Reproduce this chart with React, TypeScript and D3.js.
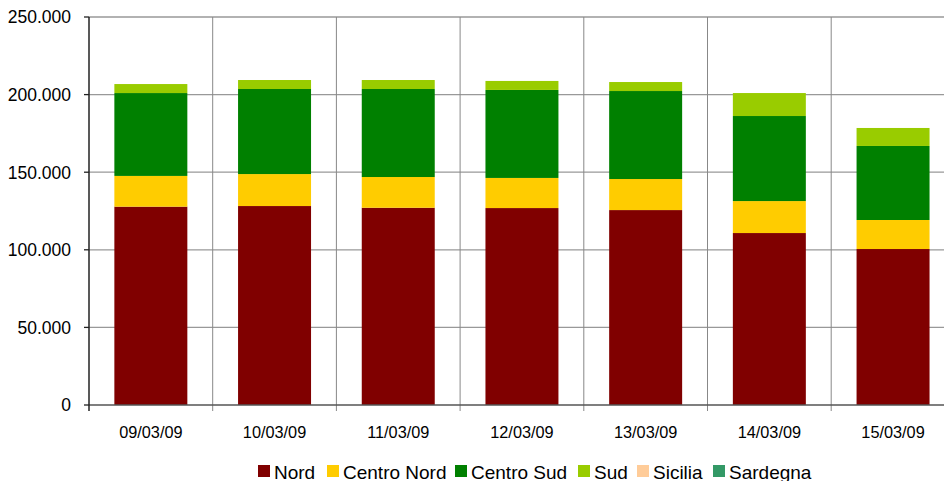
import React, { useRef, useEffect } from 'react';
import * as d3 from 'd3';

const dates = ['09/03/09', '10/03/09', '11/03/09', '12/03/09', '13/03/09', '14/03/09', '15/03/09'];
const nord = [127800, 128200, 127100, 126900, 125600, 110800, 100500];
const centroNord = [19800, 20600, 19800, 19400, 20000, 20600, 18700];
const centroSud = [53400, 54800, 56700, 56700, 56700, 54800, 47700];
const sud = [5800, 5800, 5800, 5800, 5800, 14800, 11600];
const sicilia = [0, 0, 0, 0, 0, 0, 0];
const sardegna = [0, 0, 0, 0, 0, 0, 0];

const seriesNames = ['Nord', 'Centro Nord', 'Centro Sud', 'Sud', 'Sicilia', 'Sardegna'];
const seriesColors = ['#800000', '#FFCC00', '#008000', '#99CC00', '#FFCC99', '#339966'];
const yTicks = [0, 50000, 100000, 150000, 200000, 250000];

const WIDTH = 944;
const HEIGHT = 481;

const fmt = (v: number) => (v === 0 ? '0' : d3.format(',')(v).replace(/,/g, '.'));

const App: React.FC = () => {
  const svgRef = useRef<SVGSVGElement | null>(null);

  useEffect(() => {
    if (!svgRef.current) return;
    const svg = d3.select(svgRef.current);
    svg.selectAll('*').remove();

    const left = 89;
    const top = 17;
    const bottom = 405;
    const step = 123.7;
    const right = left + step * dates.length;

    const rows = dates.map((d, i) => ({
      date: d,
      Nord: nord[i],
      'Centro Nord': centroNord[i],
      'Centro Sud': centroSud[i],
      Sud: sud[i],
      Sicilia: sicilia[i],
      Sardegna: sardegna[i],
    }));

    const x = d3.scaleBand<string>().domain(dates).range([left, right]).paddingInner(0.41).paddingOuter(0.205);
    const y = d3.scaleLinear().domain([0, 250000]).range([bottom, top]);
    const stack = d3.stack<any>().keys(seriesNames)(rows);

    const font = '"Liberation Sans", Arial, sans-serif';

    // horizontal gridlines
    svg.append('g')
      .selectAll('line')
      .data(yTicks.filter(t => t > 0))
      .join('line')
      .attr('x1', left)
      .attr('x2', right)
      .attr('y1', d => y(d))
      .attr('y2', d => y(d))
      .attr('stroke', '#999')
      .attr('stroke-width', 1.3);

    // vertical gridlines at category boundaries
    svg.append('g')
      .selectAll('line')
      .data(dates.slice(1))
      .join('line')
      .attr('x1', d => x(d)! - x.bandwidth() * 0.41 / 0.59 / 2)
      .attr('x2', d => x(d)! - x.bandwidth() * 0.41 / 0.59 / 2)
      .attr('y1', top)
      .attr('y2', bottom + 6)
      .attr('stroke', '#888')
      .attr('stroke-width', 1);

    // stacked bars
    stack.forEach((s, si) => {
      svg.append('g')
        .attr('fill', seriesColors[si])
        .selectAll('rect')
        .data(s)
        .join('rect')
        .attr('x', d => x(d.data.date)!)
        .attr('width', x.bandwidth())
        .attr('y', d => y(d[1]))
        .attr('height', d => y(d[0]) - y(d[1]));
    });

    // x axis line
    svg.append('line')
      .attr('x1', left).attr('x2', right)
      .attr('y1', bottom).attr('y2', bottom)
      .attr('stroke', '#555').attr('stroke-width', 1.5);

    // y axis line
    svg.append('line')
      .attr('x1', left).attr('x2', left)
      .attr('y1', top).attr('y2', bottom + 6)
      .attr('stroke', '#222').attr('stroke-width', 1.5);

    // y ticks + labels
    const yg = svg.append('g');
    yg.selectAll('line')
      .data(yTicks)
      .join('line')
      .attr('x1', left - 5).attr('x2', left)
      .attr('y1', d => y(d)).attr('y2', d => y(d))
      .attr('stroke', '#222').attr('stroke-width', 1.3);
    yg.selectAll('text')
      .data(yTicks)
      .join('text')
      .attr('x', 71)
      .attr('y', d => y(d))
      .attr('dy', '0.36em')
      .attr('text-anchor', 'end')
      .attr('font-family', font)
      .attr('font-size', 17.5)
      .attr('fill', '#000')
      .text(d => fmt(d));

    // x labels
    svg.append('g')
      .selectAll('text')
      .data(dates)
      .join('text')
      .attr('x', d => x(d)! + x.bandwidth() / 2)
      .attr('y', 438)
      .attr('text-anchor', 'middle')
      .attr('font-family', font)
      .attr('font-size', 16.3)
      .attr('fill', '#000')
      .text(d => d);

    // legend
    const legendX = [258, 327, 455, 578, 637, 713];
    const lg = svg.append('g');
    seriesNames.forEach((name, i) => {
      lg.append('rect')
        .attr('x', legendX[i])
        .attr('y', 465)
        .attr('width', 12)
        .attr('height', 12)
        .attr('fill', seriesColors[i]);
      lg.append('text')
        .attr('x', legendX[i] + 16)
        .attr('y', 478.5)
        .attr('font-family', font)
        .attr('font-size', 19)
        .attr('fill', '#000')
        .text(name);
    });
  }, []);

  return (
    <svg
      ref={svgRef}
      width={WIDTH}
      height={HEIGHT}
      style={{ position: 'absolute', left: 0, top: 0, background: '#fff' }}
    />
  );
};

export default App;
